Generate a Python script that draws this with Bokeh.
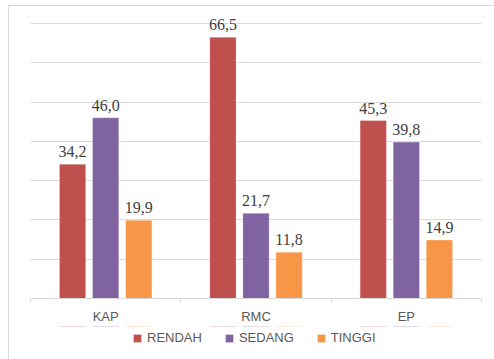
from bokeh.plotting import figure
from bokeh.layouts import column
from bokeh.models import (ColumnDataSource, Range1d, FixedTicker, LinearAxis,
                          Legend, LegendItem)
from bokeh.core.properties import value
from bokeh.embed import file_html
from bokeh.resources import INLINE

categories = ["KAP", "RMC", "EP"]
series = ["RENDAH", "SEDANG", "TINGGI"]
rendah = [34.2, 66.5, 45.3]
sedang = [46.0, 21.7, 39.8]
tinggi = [19.9, 11.8, 14.9]
colors = ["#C0504D", "#8064A2", "#F79646"]

def fmt(v):
    return f"{v:.1f}".replace(".", ",")

n = len(categories)
centers = [i + 0.5 for i in range(n)]

p = figure(width=485, height=320, x_range=Range1d(0, n),
           y_range=Range1d(0, 73.3), output_backend="svg", toolbar_location=None,
           x_axis_location=None, y_axis_location=None,
           min_border_left=21, min_border_right=13, min_border_top=4, min_border_bottom=27)
p.outline_line_color = None
p.xgrid.visible = False
p.ygrid.ticker = FixedTicker(ticks=[10, 20, 30, 40, 50, 60, 70])
p.ygrid.grid_line_color = "#D9D9D9"
p.ygrid.grid_line_width = 1

offsets = [-0.22, 0.0, 0.22]
sources = []
for s, vals, c, off in zip(series, [rendah, sedang, tinggi], colors, offsets):
    src = ColumnDataSource(dict(x=[cx + off for cx in centers], top=vals,
                                lab=[fmt(v) for v in vals]))
    sources.append(src)
    p.vbar(x="x", top="top", width=0.175, source=src,
           fill_color=c, line_color="#FFFFFF", line_alpha=0.5, line_width=0.6)
    p.text(x="x", y="top", text="lab", source=src,
           text_align="center", text_baseline="bottom", y_offset=-7,
           text_font=value("Liberation Serif"), text_font_size="16px", text_color="#404040")

ax = LinearAxis(ticker=FixedTicker(ticks=centers, minor_ticks=list(range(n + 1))))
ax.major_label_overrides = {cx: c for cx, c in zip(centers, categories)}
ax.axis_line_color = "#D9D9D9"
ax.major_tick_line_color = None
ax.major_tick_out = 0
ax.major_tick_in = 0
ax.minor_tick_line_color = "#D9D9D9"
ax.minor_tick_out = 4
ax.minor_tick_in = 0
ax.major_label_standoff = 6
ax.major_label_text_font = "Liberation Sans"
ax.major_label_text_font_size = "13px"
ax.major_label_text_color = "#595959"
p.add_layout(ax, "below")

# legend strip below the chart (its bars lie outside its visible range)
lg = figure(width=485, height=33, x_range=Range1d(0, n), y_range=Range1d(-2, -1),
            output_backend="svg", toolbar_location=None,
            x_axis_location=None, y_axis_location=None, min_border=0)
lg.outline_line_color = None
lg.grid.visible = False
items = []
for s, c, src in zip(series, colors, sources):
    r = lg.vbar(x="x", top="top", width=0.175, source=src, fill_color=c,
                line_color="#FFFFFF", line_alpha=0.5, line_width=0.6)
    items.append(LegendItem(label=s, renderers=[r]))
legend = Legend(items=items, orientation="horizontal", location=(102, 14),
                border_line_color=None, background_fill_alpha=0,
                glyph_width=10, glyph_height=10, label_standoff=5,
                spacing=22, padding=0, margin=0,
                label_text_font="Liberation Sans", label_text_font_size="13px",
                label_text_color="#595959")
lg.add_layout(legend)

layout = column(p, lg, spacing=0,
                styles={"margin-left": "8px", "margin-top": "5px",
                        "border-left": "1px solid #D9D9D9",
                        "border-top": "1px solid #D9D9D9"})

open("out.html", "w").write(file_html(layout, INLINE))
